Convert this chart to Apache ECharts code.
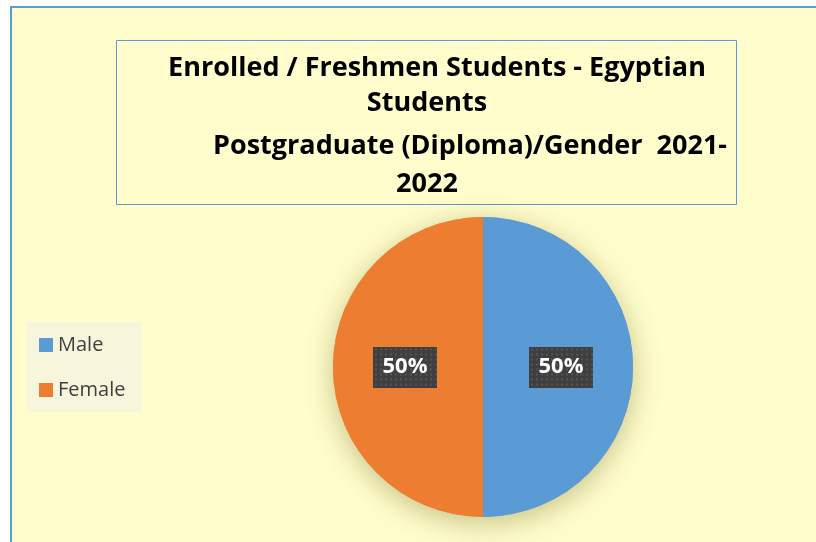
<!DOCTYPE html>
<html lang="en">

<head>
  <meta charset="UTF-8">
  <title>Enrolled / Freshmen Students - Postgraduate (Diploma)</title>
  <style>
    * {
      margin: 0;
      padding: 0;
    }

    #main {
      width: 816px;
      height: 542px;
    }
  </style>
</head>

<body>
  <div id="main"></div>
  <script src="https://cdn.jsdelivr.net/npm/echarts@6/dist/echarts.min.js"></script>
  <script>
    // data
    const categories = ['Male', 'Female']
    const values = [50, 50]
    const colors = ['#5B9BD5', '#ED7D31']
    const titleLines = [
      'Enrolled / Freshmen Students - Egyptian',
      'Students',
      'Postgraduate (Diploma)/Gender  2021-',
      '2022'
    ]

    const bg = '#FFFDCC'
    const blue = '#5B9BD5'
    const font = '"Open Sans"'

    // dotted dark box behind the percent labels
    function labelPattern() {
      const c = document.createElement('canvas')
      c.width = 64
      c.height = 41
      const ctx = c.getContext('2d')
      ctx.fillStyle = '#3f3f3f'
      ctx.fillRect(0, 0, c.width, c.height)
      ctx.fillStyle = '#555555'
      for (let y = 2; y < c.height; y += 5) {
        for (let x = 2; x < c.width; x += 5) {
          ctx.fillRect(x, y, 2, 2)
        }
      }
      return c
    }

    const chart = echarts.init(document.getElementById('main'))

    const pieData = categories.map((name, i) => ({
      name: name,
      value: values[i],
      itemStyle: { color: colors[i] }
    }))

    // title lines: center x and middle y of each line
    const titlePos = [[437, 68], [427, 103], [470, 146], [427, 184]]
    const titleText = titleLines.map((t, i) => ({
      type: 'text',
      x: titlePos[i][0],
      y: titlePos[i][1],
      z: 10,
      style: {
        text: t,
        fill: '#000',
        font: 'bold 27px ' + font,
        textAlign: 'center',
        textVerticalAlign: 'middle'
      }
    }))

    const option = {
      backgroundColor: '#fff',
      animation: false,
      graphic: [
        {
          type: 'rect',
          z: -10,
          shape: { x: 11, y: 7, width: 830, height: 560 },
          style: { fill: bg, stroke: blue, lineWidth: 2 }
        },
        {
          type: 'rect',
          z: -5,
          shape: { x: 116.5, y: 40.5, width: 620, height: 164 },
          style: { fill: bg, stroke: blue, lineWidth: 1 }
        }
      ].concat(titleText),
      legend: {
        orient: 'vertical',
        left: 27,
        top: 322,
        data: categories,
        icon: 'rect',
        itemWidth: 14,
        itemHeight: 14,
        itemGap: 25,
        padding: [13, 16, 12, 12],
        backgroundColor: '#F7F6DC',
        textStyle: {
          fontFamily: font,
          fontSize: 20,
          lineHeight: 20,
          color: '#404040'
        }
      },
      series: [
        {
          name: 'Gender',
          type: 'pie',
          center: [483, 367],
          radius: 150,
          startAngle: 90,
          z: 3,
          data: pieData,
          itemStyle: { borderWidth: 0 },
          emphasis: { disabled: true },
          label: {
            show: true,
            position: 'inside',
            formatter: '{d}%',
            color: '#fff',
            fontFamily: font,
            fontWeight: 'bold',
            fontSize: 22,
            width: 64,
            height: 41,
            lineHeight: 41,
            align: 'center',
            backgroundColor: { image: labelPattern() },
            shadowColor: 'rgba(0,0,0,0.45)',
            shadowBlur: 6,
            shadowOffsetX: 3,
            shadowOffsetY: 3
          },
          labelLine: { show: false }
        },
        {
          // shadow layer under the pie
          name: 'shadow',
          type: 'pie',
          center: [483, 367],
          radius: 150,
          startAngle: 90,
          z: 1,
          silent: true,
          data: pieData,
          itemStyle: {
            shadowColor: 'rgba(90,80,0,0.35)',
            shadowBlur: 28,
            shadowOffsetY: 6
          },
          label: { show: false },
          labelLine: { show: false }
        }
      ]
    }

    chart.setOption(option)
  </script>
</body>

</html>
